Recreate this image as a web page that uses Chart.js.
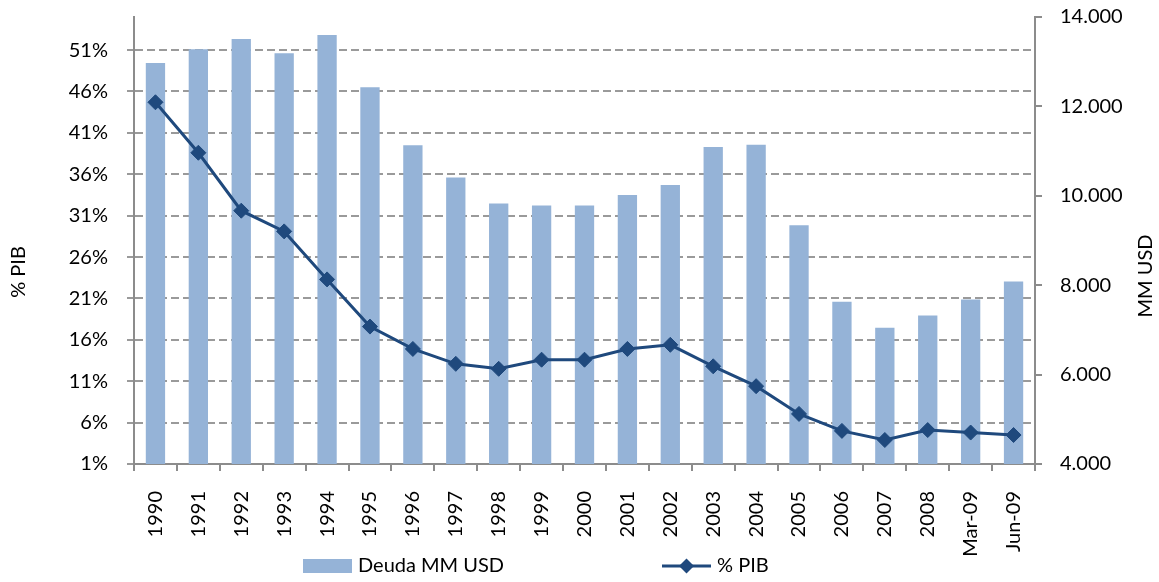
<!DOCTYPE html>
<html><head><meta charset="utf-8">
<script src="https://cdn.jsdelivr.net/npm/chart.js@4.4.0/dist/chart.umd.min.js"></script>
<style>html,body{margin:0;padding:0;background:#fff;}canvas{display:block;}</style>
</head><body>
<canvas id="c" width="1159" height="582"></canvas>
<script>
const categories = ['1990','1991','1992','1993','1994','1995','1996','1997','1998','1999','2000','2001','2002','2003','2004','2005','2006','2007','2008','Mar-09','Jun-09'];
const deudaMMUSD = [12970,13280,13510,13190,13600,12430,11130,10410,9830,9785,9785,10020,10240,11090,11140,9340,7630,7050,7320,7680,8080];
const pctPIB = [44.7,38.6,31.6,29.1,23.3,17.6,14.9,13.1,12.5,13.6,13.6,14.9,15.4,12.8,10.4,7.05,5.0,3.9,5.1,4.8,4.5];
const leftTicks = [1,6,11,16,21,26,31,36,41,46,51];
const rightTicks = [4000,6000,8000,10000,12000,14000];
const legendLabels = ['Deuda MM USD','% PIB'];
const leftTitle = '% PIB';
const rightTitle = 'MM USD';

const FONT = 'Lato, "Open Sans", sans-serif';
const BAR_COLOR = '#95B3D7';
const LINE_COLOR = '#1F497D';
const AXIS_COLOR = '#8c8c8c';
const GRID_COLOR = '#9a9a9a';

function fmtThousands(v){ return String(v).replace(/\B(?=(\d{3})+(?!\d))/g,'.'); }

function diamond(ctx,x,y,r){
  ctx.beginPath();
  ctx.moveTo(x,y-r);ctx.lineTo(x+r,y);ctx.lineTo(x,y+r);ctx.lineTo(x-r,y);ctx.closePath();ctx.fill();
}

const extras = {
  id:'extras',
  afterDraw(chart){
    const ctx = chart.ctx;
    ctx.save();
    ctx.fillStyle = '#000';
    ctx.font = '20px ' + FONT;
    ctx.textBaseline = 'middle';
    // axis titles
    ctx.save(); ctx.translate(19,272); ctx.rotate(-Math.PI/2); ctx.textAlign='center'; ctx.fillText(leftTitle,0,0); ctx.restore();
    ctx.save(); ctx.translate(1146,276); ctx.rotate(-Math.PI/2); ctx.textAlign='center'; ctx.fillText(rightTitle,0,0); ctx.restore();
    // legend
    ctx.fillStyle = BAR_COLOR;
    ctx.fillRect(303,559,49,14);
    ctx.fillStyle = '#000'; ctx.textAlign='left';
    ctx.fillText(legendLabels[0],358,566);
    ctx.strokeStyle = LINE_COLOR; ctx.lineWidth = 3;
    ctx.beginPath(); ctx.moveTo(662,566); ctx.lineTo(711,566); ctx.stroke();
    ctx.fillStyle = LINE_COLOR; diamond(ctx,686.5,566,7.5);
    ctx.fillStyle = '#000';
    ctx.fillText(legendLabels[1],717,566);
    ctx.restore();
  }
};

function fixY(width){
  return function(s){ s.width = width; s.paddingTop = 0; s.paddingBottom = 0; };
}

new Chart(document.getElementById('c'),{
  data:{
    labels: categories,
    datasets:[
      {type:'line',label:legendLabels[1],data:pctPIB,yAxisID:'y',order:0,
       borderColor:LINE_COLOR,borderWidth:3,tension:0,
       pointStyle:'rectRot',pointRadius:7.5,pointBackgroundColor:LINE_COLOR,pointBorderColor:LINE_COLOR,pointBorderWidth:1},
      {type:'bar',label:legendLabels[0],data:deudaMMUSD,yAxisID:'y1',order:1,
       backgroundColor:BAR_COLOR,barPercentage:0.45,categoryPercentage:1}
    ]
  },
  options:{
    responsive:false, animation:false, devicePixelRatio:1,
    layout:{padding:{top:17,bottom:0,left:0,right:0}},
    plugins:{legend:{display:false},tooltip:{enabled:false},title:{display:false}},
    scales:{
      x:{
        type:'category', offset:true,
        grid:{offset:true,drawOnChartArea:false,tickLength:7,color:AXIS_COLOR,lineWidth:2},
        border:{color:AXIS_COLOR,width:2},
        ticks:{minRotation:90,maxRotation:90,autoSkip:false,padding:20,color:'#000',font:{family:FONT,size:20}},
        afterFit(s){ s.height = 118; s.paddingLeft = 0; s.paddingRight = 0; }
      },
      y:{
        position:'left', min:1, max:55,
        afterBuildTicks(s){ s.ticks = leftTicks.map(v=>({value:v})); },
        grid:{color:GRID_COLOR,lineWidth:2,tickLength:7,tickBorderDash:[],drawTicks:true},
        border:{color:AXIS_COLOR,width:2,dash:[8,4]},
        ticks:{padding:19,color:'#000',font:{family:FONT,size:20},callback:v=>v+'%'},
        afterFit: fixY(134)
      },
      y1:{
        position:'right', min:4000, max:14000,
        afterBuildTicks(s){ s.ticks = rightTicks.map(v=>({value:v})); },
        grid:{drawOnChartArea:false,color:AXIS_COLOR,lineWidth:2,tickLength:7},
        border:{color:AXIS_COLOR,width:2},
        ticks:{padding:18,color:'#000',font:{family:FONT,size:20},callback:v=>fmtThousands(v)},
        afterFit: fixY(124)
      }
    }
  },
  plugins:[extras]
});
</script>
</body></html>
